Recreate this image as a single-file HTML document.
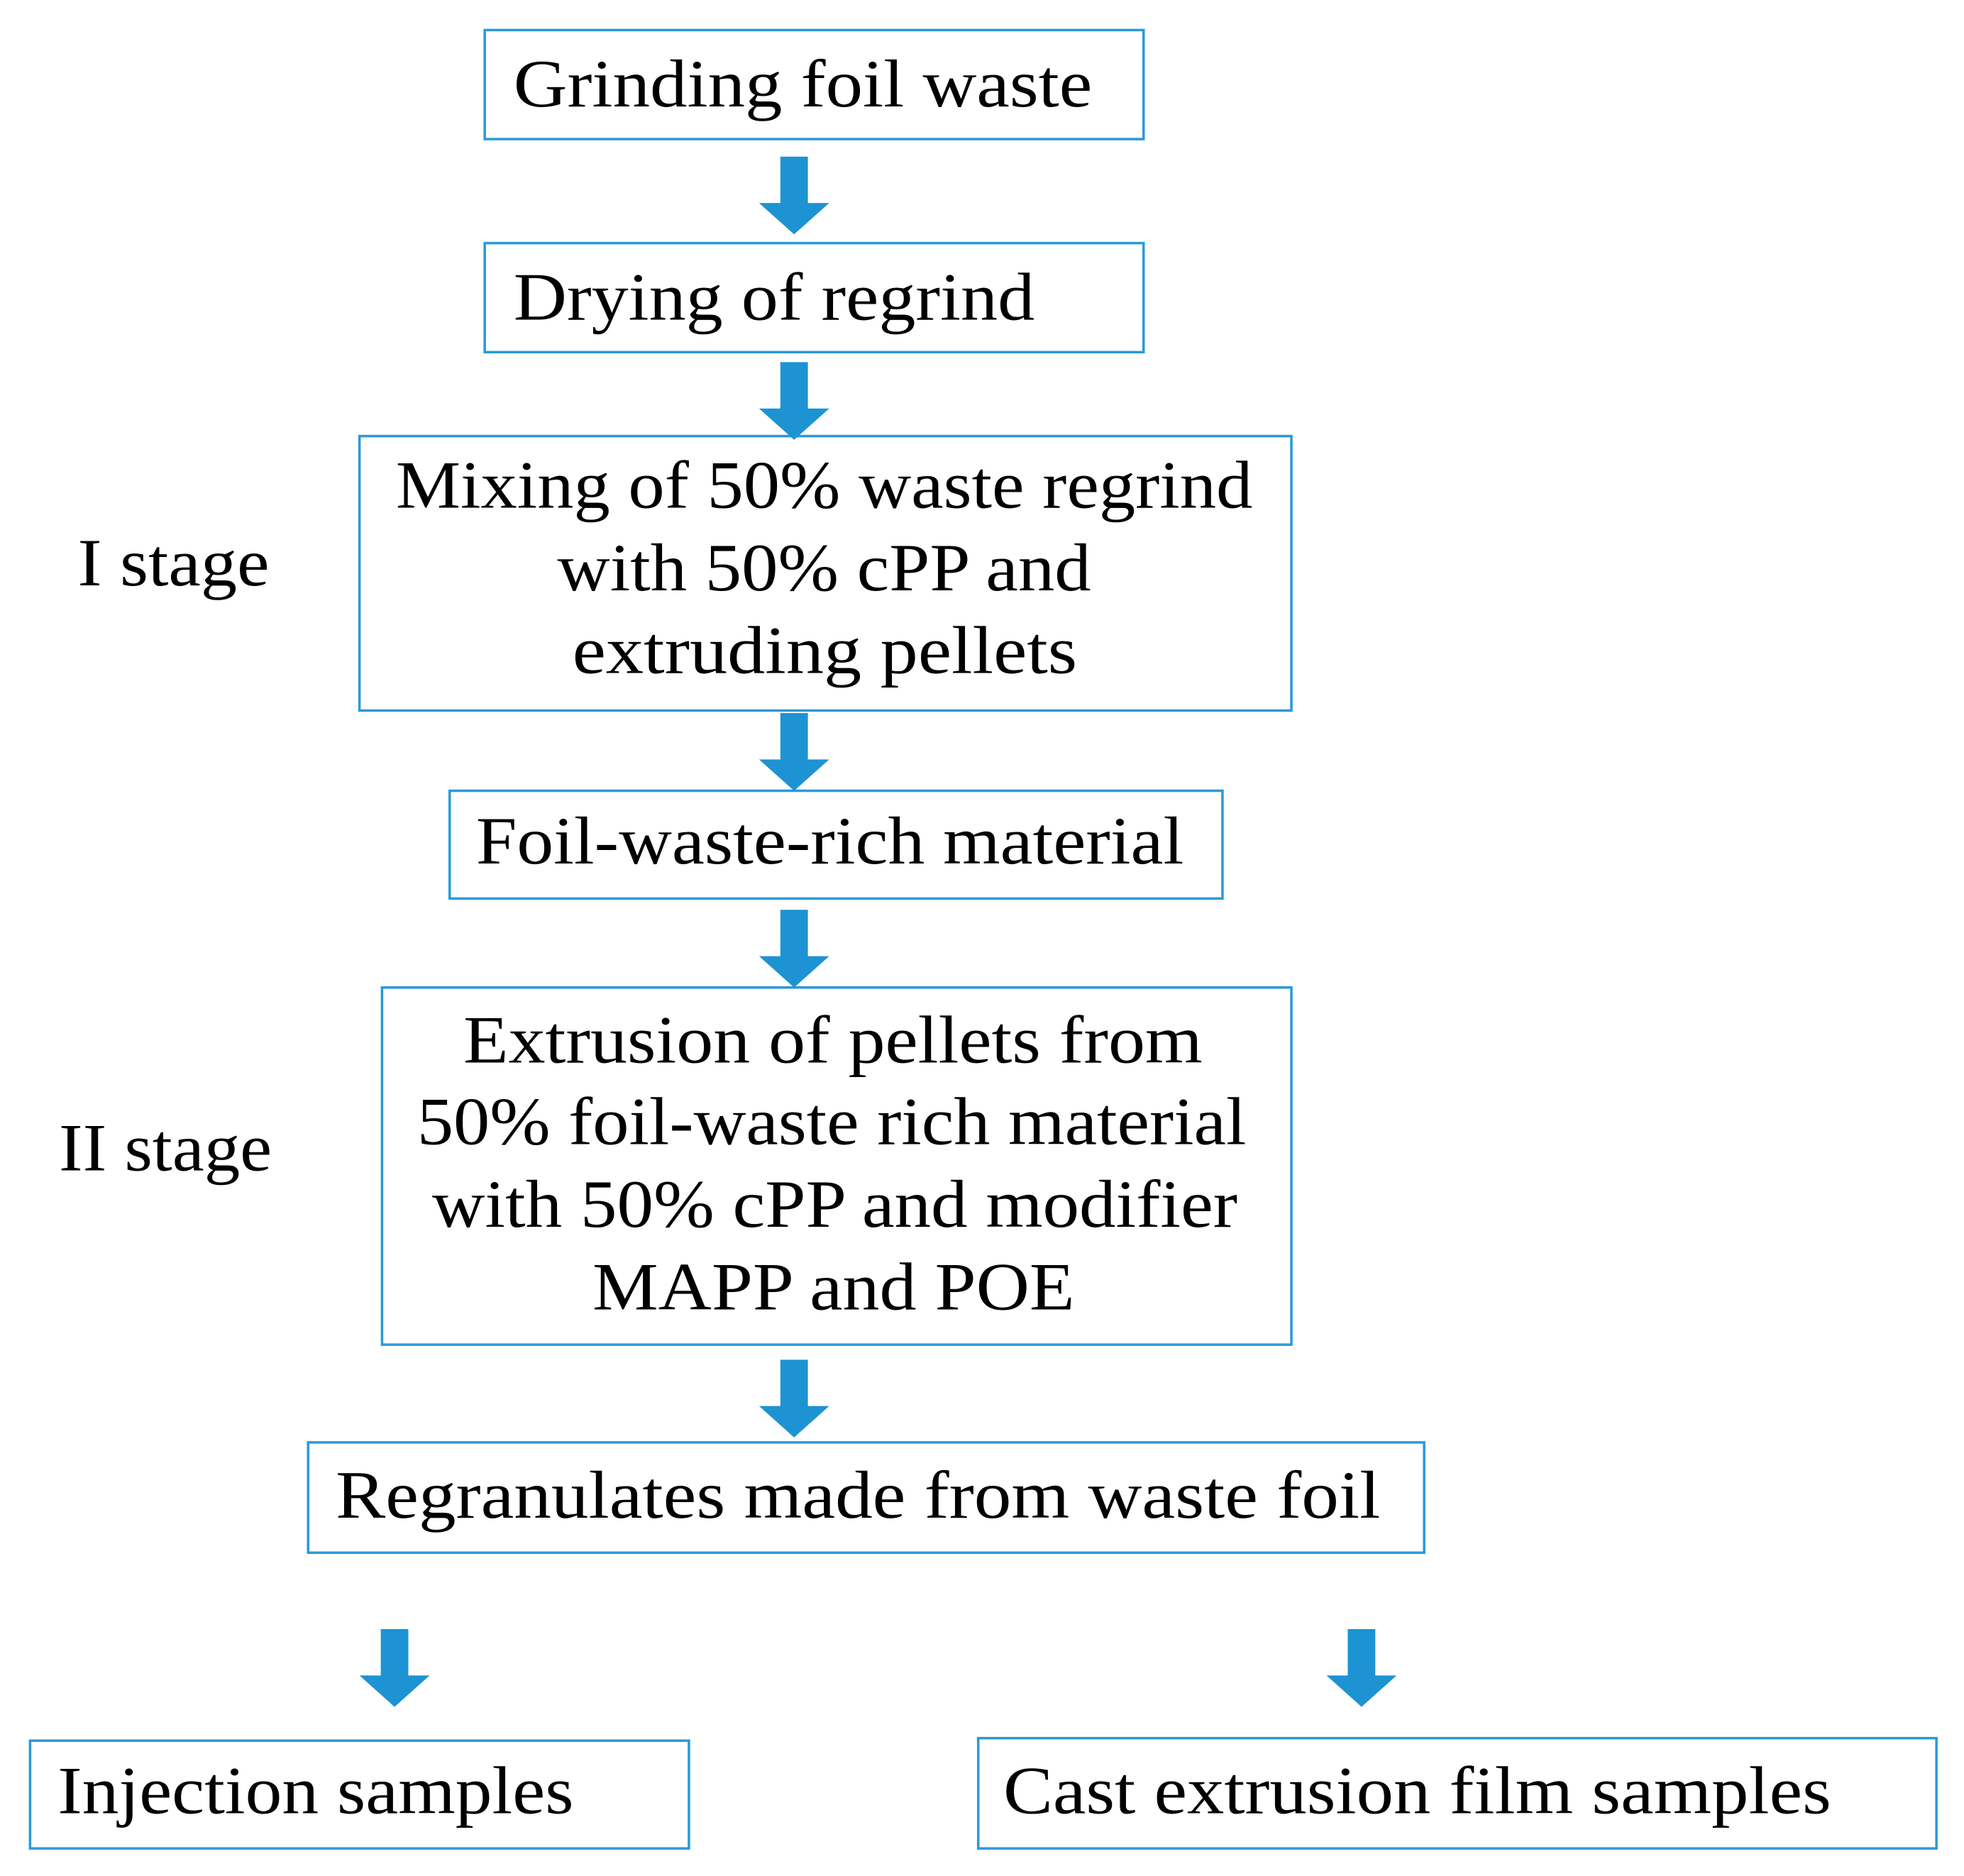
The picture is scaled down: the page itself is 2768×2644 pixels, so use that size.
<!DOCTYPE html>
<html><head><meta charset="utf-8">
<style>
html,body{margin:0;padding:0;background:#fff;}
svg{display:block;}
text{font-family:"Liberation Serif",serif;font-size:54px;fill:#000;}
</style></head>
<body>
<svg width="2768" height="2644" viewBox="0 0 1568 1497" preserveAspectRatio="none" xmlns="http://www.w3.org/2000/svg">
<defs>
<g id="arr"><polygon points="-11,0 11,0 11,37 28,37 0,62 -28,37 -11,37" fill="#1d93d3"/></g>
</defs>
<g fill="#fff" stroke="#2a9ad8" stroke-width="2">
<rect x="387" y="24" width="526" height="87"/>
<rect x="387" y="194" width="526" height="87"/>
<rect x="287" y="348" width="744" height="219"/>
<rect x="359" y="631" width="617" height="86"/>
<rect x="305" y="788" width="726" height="285"/>
<rect x="246" y="1151" width="891" height="88"/>
<rect x="24" y="1389" width="526" height="86"/>
<rect x="781" y="1387" width="765" height="88"/>
</g>
<use href="#arr" x="634" y="125"/>
<use href="#arr" x="634" y="289"/>
<use href="#arr" x="634" y="569"/>
<use href="#arr" x="634" y="726"/>
<use href="#arr" x="634" y="1085"/>
<use href="#arr" x="315" y="1300"/>
<use href="#arr" x="1087" y="1300"/>

<text x="410" y="85" textLength="462" lengthAdjust="spacingAndGlyphs">Grinding foil waste</text>
<text x="410" y="255" textLength="416" lengthAdjust="spacingAndGlyphs">Drying of regrind</text>
<text x="316" y="405" textLength="684" lengthAdjust="spacingAndGlyphs">Mixing of 50% waste regrind</text>
<text x="445" y="471" textLength="426" lengthAdjust="spacingAndGlyphs">with 50% cPP and</text>
<text x="457" y="537" textLength="403" lengthAdjust="spacingAndGlyphs">extruding pellets</text>
<text x="62" y="467" textLength="153" lengthAdjust="spacingAndGlyphs">I stage</text>
<text x="380" y="689" textLength="565" lengthAdjust="spacingAndGlyphs">Foil-waste-rich material</text>
<text x="370" y="848" textLength="590" lengthAdjust="spacingAndGlyphs">Extrusion of pellets from</text>
<text x="333" y="913" textLength="662" lengthAdjust="spacingAndGlyphs">50% foil-waste rich material</text>
<text x="345" y="979" textLength="643" lengthAdjust="spacingAndGlyphs">with 50% cPP and modifier</text>
<text x="473" y="1045" textLength="385" lengthAdjust="spacingAndGlyphs">MAPP and POE</text>
<text x="47" y="934" textLength="170" lengthAdjust="spacingAndGlyphs">II stage</text>
<text x="268" y="1211" textLength="834" lengthAdjust="spacingAndGlyphs">Regranulates made from waste foil</text>
<text x="46" y="1447" textLength="412" lengthAdjust="spacingAndGlyphs">Injection samples</text>
<text x="801" y="1447" textLength="661" lengthAdjust="spacingAndGlyphs">Cast extrusion film samples</text>
</svg>
</body></html>
